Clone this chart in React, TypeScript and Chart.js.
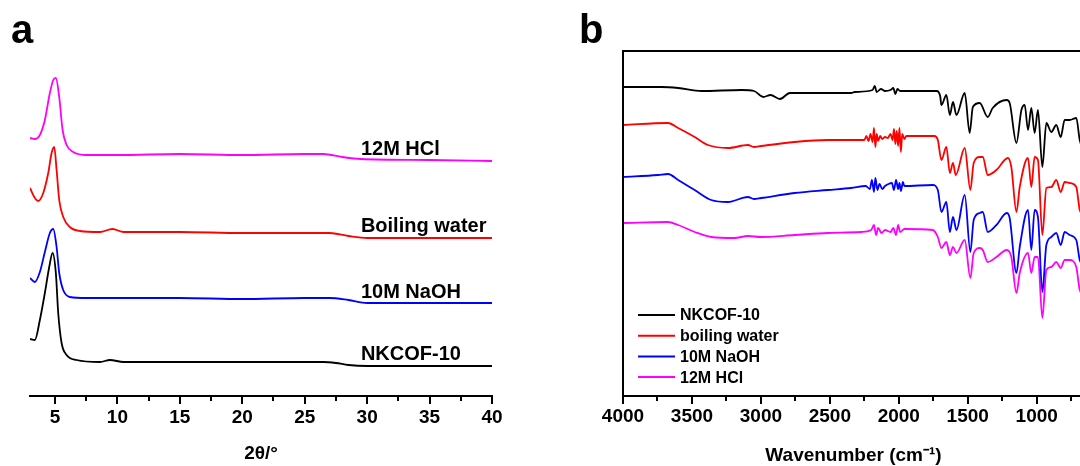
import React, { useEffect, useRef } from 'react';
import { Chart, registerables } from 'chart.js';

Chart.register(...registerables);

const FONT = '"Liberation Sans", Arial, Helvetica, sans-serif';

// ---------------- Panel a : PXRD ----------------
const xrdNames = ['NKCOF-10', '10M NaOH', 'Boiling water', '12M HCl'];
const xrdColors = ['#000000', '#0000ff', '#ff0000', '#ff00ff'];

const xrdNkcofX = [3.0, 3.39, 3.79, 4.19, 4.54, 4.81, 5.07, 5.26, 5.53, 5.93, 6.73, 8.6, 9.4, 10.5, 15, 20, 25, 26.5, 27.5, 28.5, 30, 40];
const xrdNkcofY = [57, 56, 76, 103, 129, 143, 123, 83, 53, 41, 36, 34, 36, 34, 34, 34, 34, 34, 33, 31, 30, 30];

const xrdNaohX = [3.0, 3.39, 3.79, 4.19, 4.59, 4.86, 5.13, 5.34, 5.66, 6.19, 7.53, 10, 15, 20, 25, 27, 28.5, 30, 35, 40];
const xrdNaohY = [118, 114, 124, 144, 163, 167, 149, 123, 106, 99, 98, 98, 98, 97, 98, 98, 96, 93, 93, 93];

const xrdWaterX = [3.0, 3.39, 3.66, 4.06, 4.46, 4.73, 4.94, 5.13, 5.34, 5.66, 6.19, 7.0, 8.6, 9.6, 10.5, 15, 20, 25, 27, 28.5, 30, 40];
const xrdWaterY = [208, 198, 195, 203, 223, 243, 249, 226, 196, 179, 169, 165, 164, 167, 164, 164, 163, 163, 163, 160, 158, 158];

const xrdHclX = [3.0, 3.39, 3.79, 4.19, 4.59, 4.86, 5.07, 5.34, 5.61, 5.93, 6.46, 7.53, 10, 15, 20, 25, 26.5, 28, 29.5, 35, 40];
const xrdHclY = [258, 257, 261, 276, 303, 316, 318, 299, 266, 251, 244, 241, 241, 242, 241, 242, 242, 239, 237, 236, 235];

const xrdTicks = [5, 10, 15, 20, 25, 30, 35, 40];
const xrdMinorTicks = [7.5, 12.5, 17.5, 22.5, 27.5, 32.5, 37.5];
const xrdLabelX = 29.5;
const xrdLabelY = [36, 98, 164, 241];

// ---------------- Panel b : FTIR ----------------
const irNames = ['NKCOF-10', 'boiling water', '10M NaOH', '12M HCl'];
const irColors = ['#000000', '#ff0000', '#0000ff', '#ff00ff'];

const irNkcofX = [4000, 3720, 3600, 3430, 3140, 3050, 2983, 2930, 2862, 2790, 2515, 2345, 2320, 2190, 2175, 2160, 2130, 2100, 2060, 2040, 2025, 2010, 1990, 1725, 1700, 1691, 1655, 1630, 1607, 1582, 1522, 1486, 1463, 1413, 1355, 1319, 1217, 1196, 1147, 1111, 1087, 1063, 1039, 1015, 991, 959, 930, 894, 858, 826, 797, 761, 713, 688, 660];
const irNkcofY = [309, 309, 308, 305, 306, 305, 299, 301, 297, 303, 303, 303, 304, 306, 310, 304, 307, 305, 306, 308, 302, 307, 305, 305, 300, 291, 301, 281, 294, 281, 303, 263, 289, 293, 279, 288, 296, 293, 253, 286, 291, 266, 288, 263, 286, 229, 273, 264, 271, 259, 276, 276, 278, 256, 246];

const irWaterX = [4000, 3674, 3600, 3480, 3384, 3239, 3094, 3050, 2998, 2756, 2515, 2322, 2250, 2235, 2220, 2205, 2190, 2180, 2170, 2160, 2150, 2135, 2120, 2100, 2080, 2060, 2045, 2035, 2025, 2015, 2005, 1995, 1985, 1975, 1960, 1945, 1790, 1742, 1717, 1691, 1655, 1630, 1607, 1587, 1522, 1481, 1457, 1413, 1391, 1355, 1292, 1209, 1184, 1147, 1123, 1063, 1039, 1015, 991, 959, 930, 894, 858, 826, 797, 761, 713, 688, 660];
const irWaterY = [271, 273, 268, 259, 251, 248, 251, 249, 250, 254, 256, 256, 256, 260, 255, 262, 254, 268, 249, 262, 255, 260, 257, 259, 258, 262, 256, 267, 252, 265, 250, 268, 244, 262, 257, 260, 260, 260, 256, 236, 249, 223, 233, 221, 248, 206, 233, 239, 239, 221, 226, 238, 229, 184, 209, 238, 209, 239, 236, 161, 208, 209, 216, 204, 214, 213, 209, 186, 181];

const irNaohX = [4000, 3746, 3674, 3600, 3480, 3360, 3239, 3094, 3050, 2998, 2756, 2515, 2346, 2240, 2210, 2195, 2180, 2170, 2155, 2140, 2120, 2100, 2075, 2050, 2035, 2020, 2005, 1995, 1985, 1970, 1960, 1754, 1717, 1691, 1655, 1630, 1607, 1582, 1522, 1481, 1457, 1413, 1391, 1355, 1292, 1217, 1196, 1147, 1123, 1063, 1039, 1015, 991, 959, 930, 894, 858, 826, 797, 761, 713, 688, 660];
const irNaohY = [219, 221, 222, 216, 206, 196, 194, 199, 197, 198, 203, 206, 208, 210, 207, 216, 204, 218, 206, 212, 207, 210, 212, 213, 206, 216, 207, 213, 205, 214, 210, 211, 206, 184, 194, 164, 179, 166, 201, 144, 176, 183, 184, 164, 171, 183, 178, 123, 149, 186, 146, 186, 179, 104, 151, 159, 163, 151, 164, 161, 156, 136, 131];

const irHclX = [4000, 3674, 3600, 3480, 3360, 3191, 3094, 2998, 2756, 2515, 2273, 2200, 2180, 2165, 2150, 2125, 2100, 2060, 2040, 2020, 2005, 1990, 1960, 1754, 1717, 1691, 1655, 1630, 1607, 1582, 1522, 1481, 1457, 1413, 1391, 1355, 1292, 1217, 1184, 1147, 1123, 1063, 1039, 1015, 991, 959, 930, 894, 858, 826, 797, 761, 713, 688, 660];
const irHclY = [173, 174, 171, 164, 159, 158, 160, 159, 161, 163, 164, 166, 171, 161, 168, 163, 166, 164, 168, 161, 171, 164, 167, 166, 159, 148, 154, 141, 149, 143, 156, 118, 143, 148, 146, 134, 139, 146, 139, 103, 123, 143, 123, 139, 139, 78, 126, 129, 134, 128, 136, 136, 129, 106, 101];

const irTicks = [4000, 3500, 3000, 2500, 2000, 1500, 1000];
const irMinorTicks = [3750, 3250, 2750, 2250, 1750, 1250, 750];

// ---------------- helpers ----------------
const toPoints = (xs: number[], ys: number[]) => xs.map((x, i) => ({ x, y: ys[i] }));

const decorPlugin = {
  id: 'decor',
  afterDraw(chart: any, _args: any, opts: any) {
    const ctx = chart.ctx as CanvasRenderingContext2D;
    const xs = chart.scales.x;
    const ys = chart.scales.y;
    const ca = chart.chartArea;
    ctx.save();
    ctx.strokeStyle = '#000';
    ctx.lineWidth = 2;
    (opts.minor || []).forEach((v: number) => {
      const px = Math.round(xs.getPixelForValue(v));
      ctx.beginPath();
      ctx.moveTo(px, xs.top);
      ctx.lineTo(px, xs.top + 5);
      ctx.stroke();
    });
    if (opts.frame) {
      ctx.beginPath();
      ctx.moveTo(ca.left, ca.bottom);
      ctx.lineTo(ca.left, ca.top);
      ctx.lineTo(ca.right, ca.top);
      ctx.lineTo(ca.right, ca.bottom);
      ctx.stroke();
    }
    ctx.fillStyle = '#000';
    ctx.textBaseline = 'alphabetic';
    ctx.textAlign = 'left';
    ctx.font = `bold 40px ${FONT}`;
    ctx.fillText(opts.letter, opts.letterX, opts.letterY);
    if (opts.labels) {
      ctx.font = `bold 20px ${FONT}`;
      opts.labels.forEach((l: any) => {
        ctx.fillText(l.text, xs.getPixelForValue(l.x), ys.getPixelForValue(l.y));
      });
    }
    if (opts.legend) {
      const lg = opts.legend;
      ctx.font = `bold 16px ${FONT}`;
      ctx.textBaseline = 'middle';
      chart.data.datasets.forEach((ds: any, i: number) => {
        const y = lg.y0 + i * lg.dy;
        ctx.strokeStyle = ds.borderColor;
        ctx.lineWidth = 2;
        ctx.beginPath();
        ctx.moveTo(lg.x, y);
        ctx.lineTo(lg.x + lg.len, y);
        ctx.stroke();
        ctx.fillStyle = '#000';
        ctx.fillText(ds.label, lg.x + lg.len + 5, y + 1);
      });
    }
    ctx.restore();
  },
};

const tickFont = { family: FONT, size: 19, weight: 'bold' as const, lineHeight: 1 };

function makeXrdConfig(): any {
  const xsArr = [xrdNkcofX, xrdNaohX, xrdWaterX, xrdHclX];
  const ysArr = [xrdNkcofY, xrdNaohY, xrdWaterY, xrdHclY];
  return {
    type: 'line',
    data: {
      datasets: xrdNames.map((name, i) => ({
        label: name,
        data: toPoints(xsArr[i], ysArr[i]),
        borderColor: xrdColors[i],
        borderWidth: 1.8,
        pointRadius: 0,
        fill: false,
        cubicInterpolationMode: 'monotone',
      })),
    },
    options: {
      animation: false,
      responsive: false,
      events: [],
      layout: { padding: { left: 30, right: 48, top: 46, bottom: 0 } },
      plugins: {
        legend: { display: false },
        tooltip: { enabled: false },
        decor: {
          minor: xrdMinorTicks,
          frame: false,
          letter: 'a',
          letterX: 11,
          letterY: 43,
          labels: xrdNames.map((n, i) => ({ text: n, x: xrdLabelX, y: xrdLabelY[i] })),
        },
      },
      scales: {
        x: {
          type: 'linear',
          min: 3,
          max: 40,
          afterBuildTicks: (s: any) => {
            s.ticks = xrdTicks.map((v) => ({ value: v }));
          },
          afterFit: (s: any) => {
            s.height = 70;
          },
          grid: { display: true, drawOnChartArea: false, drawTicks: true, tickLength: 8, lineWidth: 2, color: '#000' },
          border: { display: true, width: 2, color: '#000' },
          ticks: {
            color: '#000',
            font: tickFont,
            padding: 4,
            maxRotation: 0,
            autoSkip: false,
            callback: (v: any) => String(v),
          },
          title: {
            display: true,
            text: '2θ/°',
            color: '#000',
            font: { family: FONT, size: 19, weight: 'bold', lineHeight: 1 },
            padding: { top: 0, bottom: 2.5 },
          },
        },
        y: { display: false, min: 0, max: 350 },
      },
    },
    plugins: [decorPlugin],
  };
}

function makeIrConfig(): any {
  const xsArr = [irNkcofX, irWaterX, irNaohX, irHclX];
  const ysArr = [irNkcofY, irWaterY, irNaohY, irHclY];
  return {
    type: 'line',
    data: {
      datasets: irNames.map((name, i) => ({
        label: name,
        data: toPoints(xsArr[i], ysArr[i]),
        borderColor: irColors[i],
        borderWidth: 1.8,
        pointRadius: 0,
        fill: false,
        cubicInterpolationMode: 'monotone',
      })),
    },
    options: {
      animation: false,
      responsive: false,
      events: [],
      layout: { padding: { left: 63, right: 16, top: 51, bottom: 0 } },
      plugins: {
        legend: { display: false },
        tooltip: { enabled: false },
        decor: {
          minor: irMinorTicks,
          frame: true,
          letter: 'b',
          letterX: 19,
          letterY: 43,
          legend: { x: 78, y0: 315, dy: 20.7, len: 37 },
        },
      },
      scales: {
        x: {
          type: 'linear',
          reverse: true,
          min: 657,
          max: 4000,
          afterBuildTicks: (s: any) => {
            s.ticks = irTicks.map((v) => ({ value: v }));
          },
          afterFit: (s: any) => {
            s.height = 70;
          },
          grid: { display: true, drawOnChartArea: false, drawTicks: true, tickLength: 8, lineWidth: 2, color: '#000' },
          border: { display: true, width: 2, color: '#000' },
          ticks: {
            color: '#000',
            font: tickFont,
            padding: 3,
            maxRotation: 0,
            autoSkip: false,
            callback: (v: any) => String(v),
          },
          title: {
            display: true,
            text: 'Wavenumber (cm⁻¹)',
            color: '#000',
            font: { family: FONT, size: 19, weight: 'bold', lineHeight: 1 },
            padding: { top: 0, bottom: 0.5 },
          },
        },
        y: { display: false, min: 0, max: 345 },
      },
    },
    plugins: [decorPlugin],
  };
}

function ChartCanvas({ makeConfig, left }: { makeConfig: () => any; left: number }) {
  const ref = useRef<HTMLCanvasElement>(null);
  useEffect(() => {
    const chart = new Chart(ref.current as HTMLCanvasElement, makeConfig());
    return () => chart.destroy();
  }, []);
  return (
    <canvas
      ref={ref}
      width={540}
      height={466}
      style={{ position: 'absolute', left, top: 0, width: 540, height: 466 }}
    />
  );
}

export default function App() {
  return (
    <div
      style={{
        position: 'fixed',
        left: 0,
        top: 0,
        width: 1080,
        height: 466,
        overflow: 'hidden',
        background: '#ffffff',
      }}
    >
      <ChartCanvas makeConfig={makeXrdConfig} left={0} />
      <ChartCanvas makeConfig={makeIrConfig} left={560} />
    </div>
  );
}
